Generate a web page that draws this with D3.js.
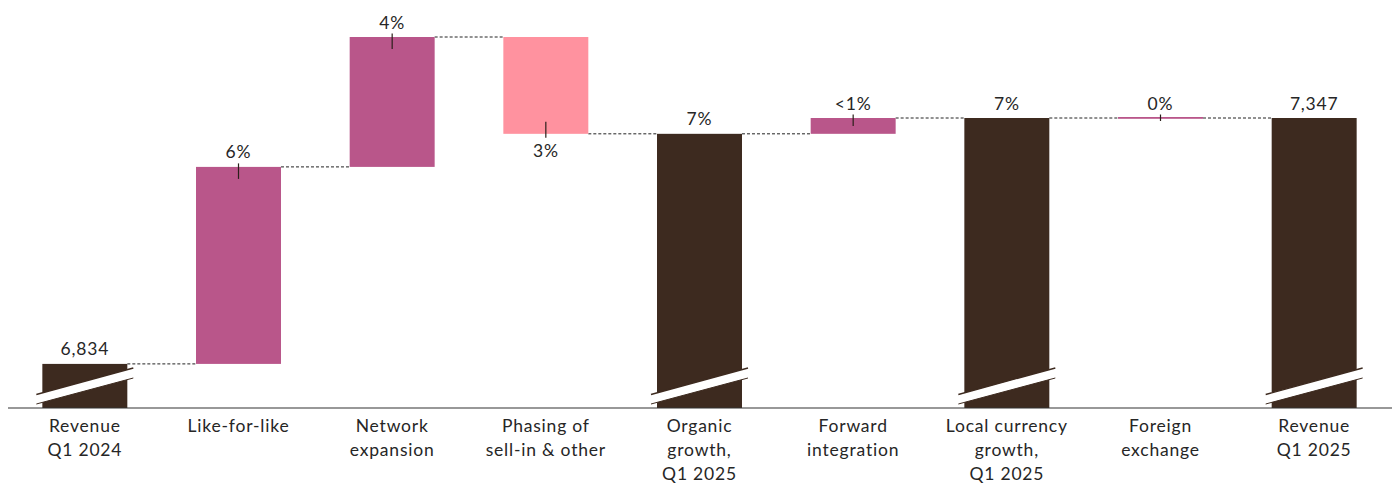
<!DOCTYPE html>
<html>
<head>
<meta charset="utf-8">
<script src="https://cdn.jsdelivr.net/npm/d3@7"></script>
<style>
  html, body { margin: 0; padding: 0; background: #fff; }
  svg { display: block; }
  text { font-family: Lato, "Noto Sans", sans-serif; fill: #262626; letter-spacing: 0.8px; }
</style>
</head>
<body>
<svg id="chart" width="1394" height="485"></svg>
<script>
// ---- data ----
const categories = ["Revenue\nQ1 2024", "Like-for-like", "Network\nexpansion", "Phasing of\nsell-in & other",
  "Organic\ngrowth,\nQ1 2025", "Forward\nintegration", "Local currency\ngrowth,\nQ1 2025", "Foreign\nexchange", "Revenue\nQ1 2025"];
const values = [6834, 411, 271, -202, 7314, 33, 7347, 0, 7347];
const kinds = ["total", "up", "up", "down", "total", "up", "total", "up", "total"];
const valueLabels = ["6,834", "6%", "4%", "3%", "7%", "<1%", "7%", "0%", "7,347"];

// ---- layout ----
const baseY = 408;
const colors = { total: "#3d2a1f", up: "#b9568a", down: "#ff929f" };

const svg = d3.select("#chart");
const x = d3.scaleBand().domain(categories).range([8, 1391]).paddingInner(0.447).paddingOuter(0.2235);
const y = d3.scaleLinear().domain([6742, 7516]).range([baseY, 37]);

// compute waterfall geometry
let running = 0;
const bars = categories.map((c, i) => {
  const v = values[i];
  let y0, y1;
  if (kinds[i] === "total") {
    running = v;
    y0 = baseY; y1 = y(v);
  } else {
    const start = running; running = running + v;
    y0 = y(start); y1 = y(running);
  }
  return { c, i, kind: kinds[i], v, top: Math.min(y0, y1), bottom: Math.max(y0, y1), level: y(running) };
});

// connectors
const conn = svg.append("g");
bars.forEach((b, i) => {
  if (i === bars.length - 1) return;
  const nb = bars[i + 1];
  conn.append("line")
    .attr("x1", x(b.c) + x.bandwidth()).attr("x2", x(nb.c))
    .attr("y1", b.level).attr("y2", b.level)
    .attr("stroke", "#222").attr("stroke-width", 1).attr("stroke-dasharray", "3,2");
});

// bars
const g = svg.append("g");
bars.forEach(b => {
  const thin = b.bottom - b.top < 1.5;
  g.append("rect")
    .attr("x", x(b.c)).attr("width", x.bandwidth())
    .attr("y", thin ? b.top - 1 : b.top)
    .attr("height", thin ? 1.8 : b.bottom - b.top)
    .attr("fill", colors[b.kind]);
});

// break marks on totals
bars.filter(b => b.kind === "total").forEach(b => {
  const xl = x(b.c) - 6, xr = x(b.c) + x.bandwidth() + 6;
  const tl = baseY - 13.5, tr = baseY - 40, bl = baseY - 4, br = baseY - 30;
  g.append("path")
    .attr("d", `M${xl},${tl}L${xr},${tr}L${xr},${br}L${xl},${bl}Z`)
    .attr("fill", "#fff");
  g.append("line").attr("x1", xl).attr("y1", tl).attr("x2", xr).attr("y2", tr)
    .attr("stroke", "#3d2a1f").attr("stroke-width", 1.3);
  g.append("line").attr("x1", xl).attr("y1", bl).attr("x2", xr).attr("y2", br)
    .attr("stroke", "#3d2a1f").attr("stroke-width", 1);
});

// axis baseline
svg.append("line").attr("x1", 8).attr("x2", 1392).attr("y1", baseY).attr("y2", baseY)
  .attr("stroke", "#333").attr("stroke-width", 1.2);

// value labels & ticks
const lab = svg.append("g");
const fs = "17.5px";
bars.forEach((b, i) => {
  const cx = x(b.c) + x.bandwidth() / 2;
  if (b.kind === "total") {
    lab.append("text").attr("x", cx).attr("y", b.top - 8.5).attr("text-anchor", "middle")
      .style("font-size", fs).text(valueLabels[i]);
  } else if (b.kind === "up") {
    const h = b.bottom - b.top;
    const depth = Math.max(3, Math.min(12, h / 2));
    lab.append("line").attr("x1", cx).attr("x2", cx).attr("y1", b.top - 3.5).attr("y2", b.top + depth)
      .attr("stroke", "#2a1f1a").attr("stroke-width", 1.2);
    lab.append("text").attr("x", cx).attr("y", b.top - 8.5).attr("text-anchor", "middle")
      .style("font-size", fs).text(valueLabels[i]);
  } else {
    lab.append("line").attr("x1", cx).attr("x2", cx).attr("y1", b.bottom - 12).attr("y2", b.bottom + 4)
      .attr("stroke", "#2a1f1a").attr("stroke-width", 1.2);
    lab.append("text").attr("x", cx).attr("y", b.bottom + 23).attr("text-anchor", "middle")
      .style("font-size", fs).text(valueLabels[i]);
  }
});

// category labels
const cat = svg.append("g");
categories.forEach(c => {
  const cx = x(c) + x.bandwidth() / 2;
  const t = cat.append("text").attr("x", cx).attr("y", 432).attr("text-anchor", "middle")
    .style("font-size", fs);
  c.split("\n").forEach((line, k) => {
    t.append("tspan").attr("x", cx).attr("dy", k === 0 ? 0 : 24).text(line);
  });
});
</script>
</body>
</html>
